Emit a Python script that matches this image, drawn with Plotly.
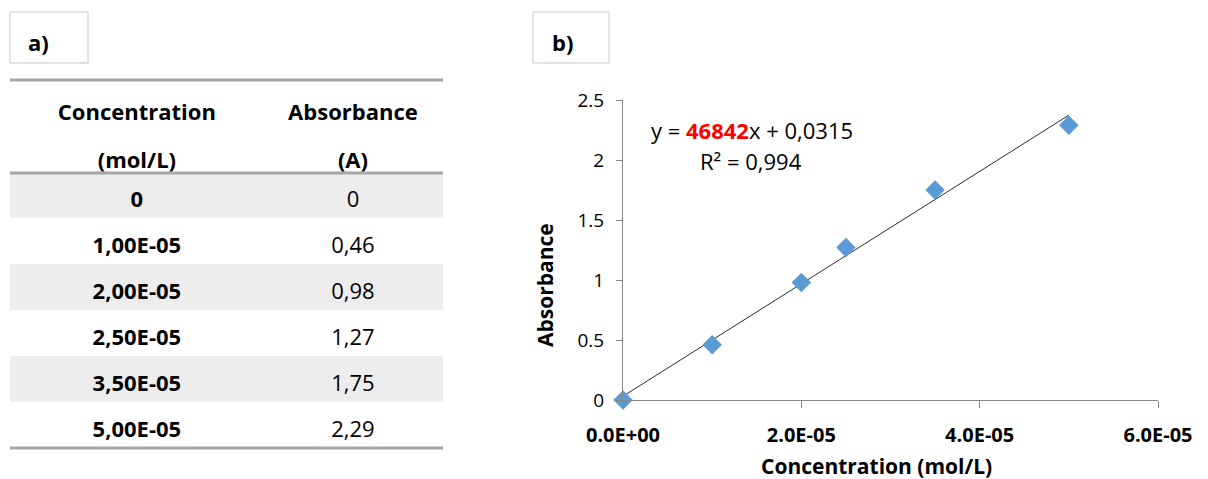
import plotly.graph_objects as go

# ---- data ----
conc_labels = ["0", "1,00E-05", "2,00E-05", "2,50E-05", "3,50E-05", "5,00E-05"]
abs_labels = ["0", "0,46", "0,98", "1,27", "1,75", "2,29"]
concentration = [0, 1.0e-5, 2.0e-5, 2.5e-5, 3.5e-5, 5.0e-5]
absorbance = [0, 0.46, 0.98, 1.27, 1.75, 2.29]
header_line1 = ["Concentration", "Absorbance"]
header_line2 = ["(mol/L)", "(A)"]
slope = 46842
intercept = 0.0315
r_squared = "0,994"
fit_x = [0, 5.0e-5]
x_tickvals = [0, 2e-5, 4e-5, 6e-5]
x_ticktext = ["0.0E+00", "2.0E-05", "4.0E-05", "6.0E-05"]
panel_labels = ["a)", "b)"]
x_title = "Concentration (mol/L)"
y_title = "Absorbance"

# page body has an 8px margin: draw a 1200x471 figure and place items in window pixels
OFF = 8
W, H = 1200, 471
FONT = "Open Sans"
px = lambda v: (v - OFF) / W
py = lambda v: 1 - (v - OFF) / H

fig = go.Figure()

# ---- table (panel a) drawn on its own hidden axes: one y unit per row ----
n = len(conc_labels)
rows = list(range(n))
col_x = [0.293, 0.792]          # column centres (fraction of table width)
head_y = [-1.74, -0.70]         # two header lines
text_drop = 0.14                # text sits a little below the band centre
GRAY = "#ededed"
gray_rows = [r for r in rows if r % 2 == 0]
fig.add_trace(go.Bar(
    x=[1] * len(gray_rows), y=gray_rows, base=0, orientation="h", width=1,
    marker=dict(color=GRAY, line=dict(width=0)), xaxis="x2", yaxis="y2",
    hoverinfo="skip", showlegend=False,
))
fig.add_trace(go.Scatter(
    x=[col_x[0]] * n, y=[r + text_drop for r in rows], mode="text",
    text=["<b>" + c + "</b>" for c in conc_labels],
    textfont=dict(family=FONT, size=22, color="black"), xaxis="x2", yaxis="y2", showlegend=False,
))
fig.add_trace(go.Scatter(
    x=[col_x[1]] * n, y=[r + text_drop for r in rows], mode="text", text=abs_labels,
    textfont=dict(family=FONT, size=22, color="black"), xaxis="x2", yaxis="y2", showlegend=False,
))
for j in range(2):
    fig.add_trace(go.Scatter(
        x=[col_x[j]] * 2, y=head_y, mode="text",
        text=["<b>" + header_line1[j] + "</b>", "<b>" + header_line2[j] + "</b>"],
        textfont=dict(family=FONT, size=22, color="black"), xaxis="x2", yaxis="y2", showlegend=False,
    ))

# ---- scatter + trend line (panel b) ----
fig.add_trace(go.Scatter(
    x=fit_x, y=[slope * x + intercept for x in fit_x], mode="lines",
    line=dict(color="#2b2b2b", width=1), showlegend=False,
))
fig.add_trace(go.Scatter(
    x=concentration, y=absorbance, mode="markers",
    marker=dict(symbol="diamond", size=15, color="#5b9bd5"),
    cliponaxis=False, showlegend=False,
))

shapes = []
for y in (80, 173, 448):
    shapes.append(dict(type="line", xref="paper", yref="paper",
                       x0=px(10), x1=px(443), y0=py(y), y1=py(y),
                       line=dict(color="#a6a6a6", width=3)))
for x0, x1 in ((10, 88), (533, 609)):
    shapes.append(dict(type="rect", xref="paper", yref="paper",
                       x0=px(x0), x1=px(x1), y0=py(63), y1=py(12),
                       line=dict(color="#c8c8c8", width=1)))

def note(text, x, y, size, angle=0):
    return dict(text=text, x=px(x), y=py(y), xref="paper", yref="paper", showarrow=False,
                xanchor="center", yanchor="middle", textangle=angle,
                font=dict(family=FONT, size=size, color="black"))

annotations = [
    note("<b>" + panel_labels[0] + "</b>", 38, 42, 22),
    note("<b>" + panel_labels[1] + "</b>", 562, 42, 22),
    note("y = <span style='color:#ff0000;font-weight:bold'>%d</span>x + %s"
         % (slope, ("%.4f" % intercept).replace(".", ",")), 752, 130, 22),
    note("R² = " + r_squared, 751, 161, 22),
    note("<b>" + x_title + "</b>", 876, 466, 21),
    note("<b>" + y_title + "</b>", 545, 285, 21, angle=-90),
]

fig.update_layout(
    width=W, height=H, margin=dict(l=0, r=0, t=0, b=0, pad=0, autoexpand=False),
    paper_bgcolor="white", plot_bgcolor="white", showlegend=False,
    shapes=shapes, annotations=annotations, bargap=0,
    xaxis=dict(domain=[px(623), px(1158)], range=[0, 6e-5], automargin=False,
               tickvals=x_tickvals, ticktext=["<b>" + t + "</b>" for t in x_ticktext],
               showgrid=False, zeroline=False, showline=True, linecolor="#868686", linewidth=1,
               ticks="outside", ticklen=7, tickcolor="#868686", ticklabelstandoff=10,
               tickfont=dict(family=FONT, size=20, color="black")),
    yaxis=dict(domain=[py(400), py(100)], range=[0, 2.5], dtick=0.5, automargin=False,
               showgrid=False, zeroline=False, showline=True, linecolor="#868686", linewidth=1,
               ticks="outside", ticklen=6, tickcolor="#868686", ticklabelstandoff=8,
               tickfont=dict(family=FONT, size=19, color="black")),
    xaxis2=dict(domain=[px(10), px(443)], range=[0, 1], visible=False, automargin=False,
                anchor="y2", fixedrange=True),
    yaxis2=dict(domain=[py(448), py(80)], range=[5.5, -2.5], visible=False, automargin=False,
                anchor="x2", fixedrange=True),
)

fig.write_html("out.html")
